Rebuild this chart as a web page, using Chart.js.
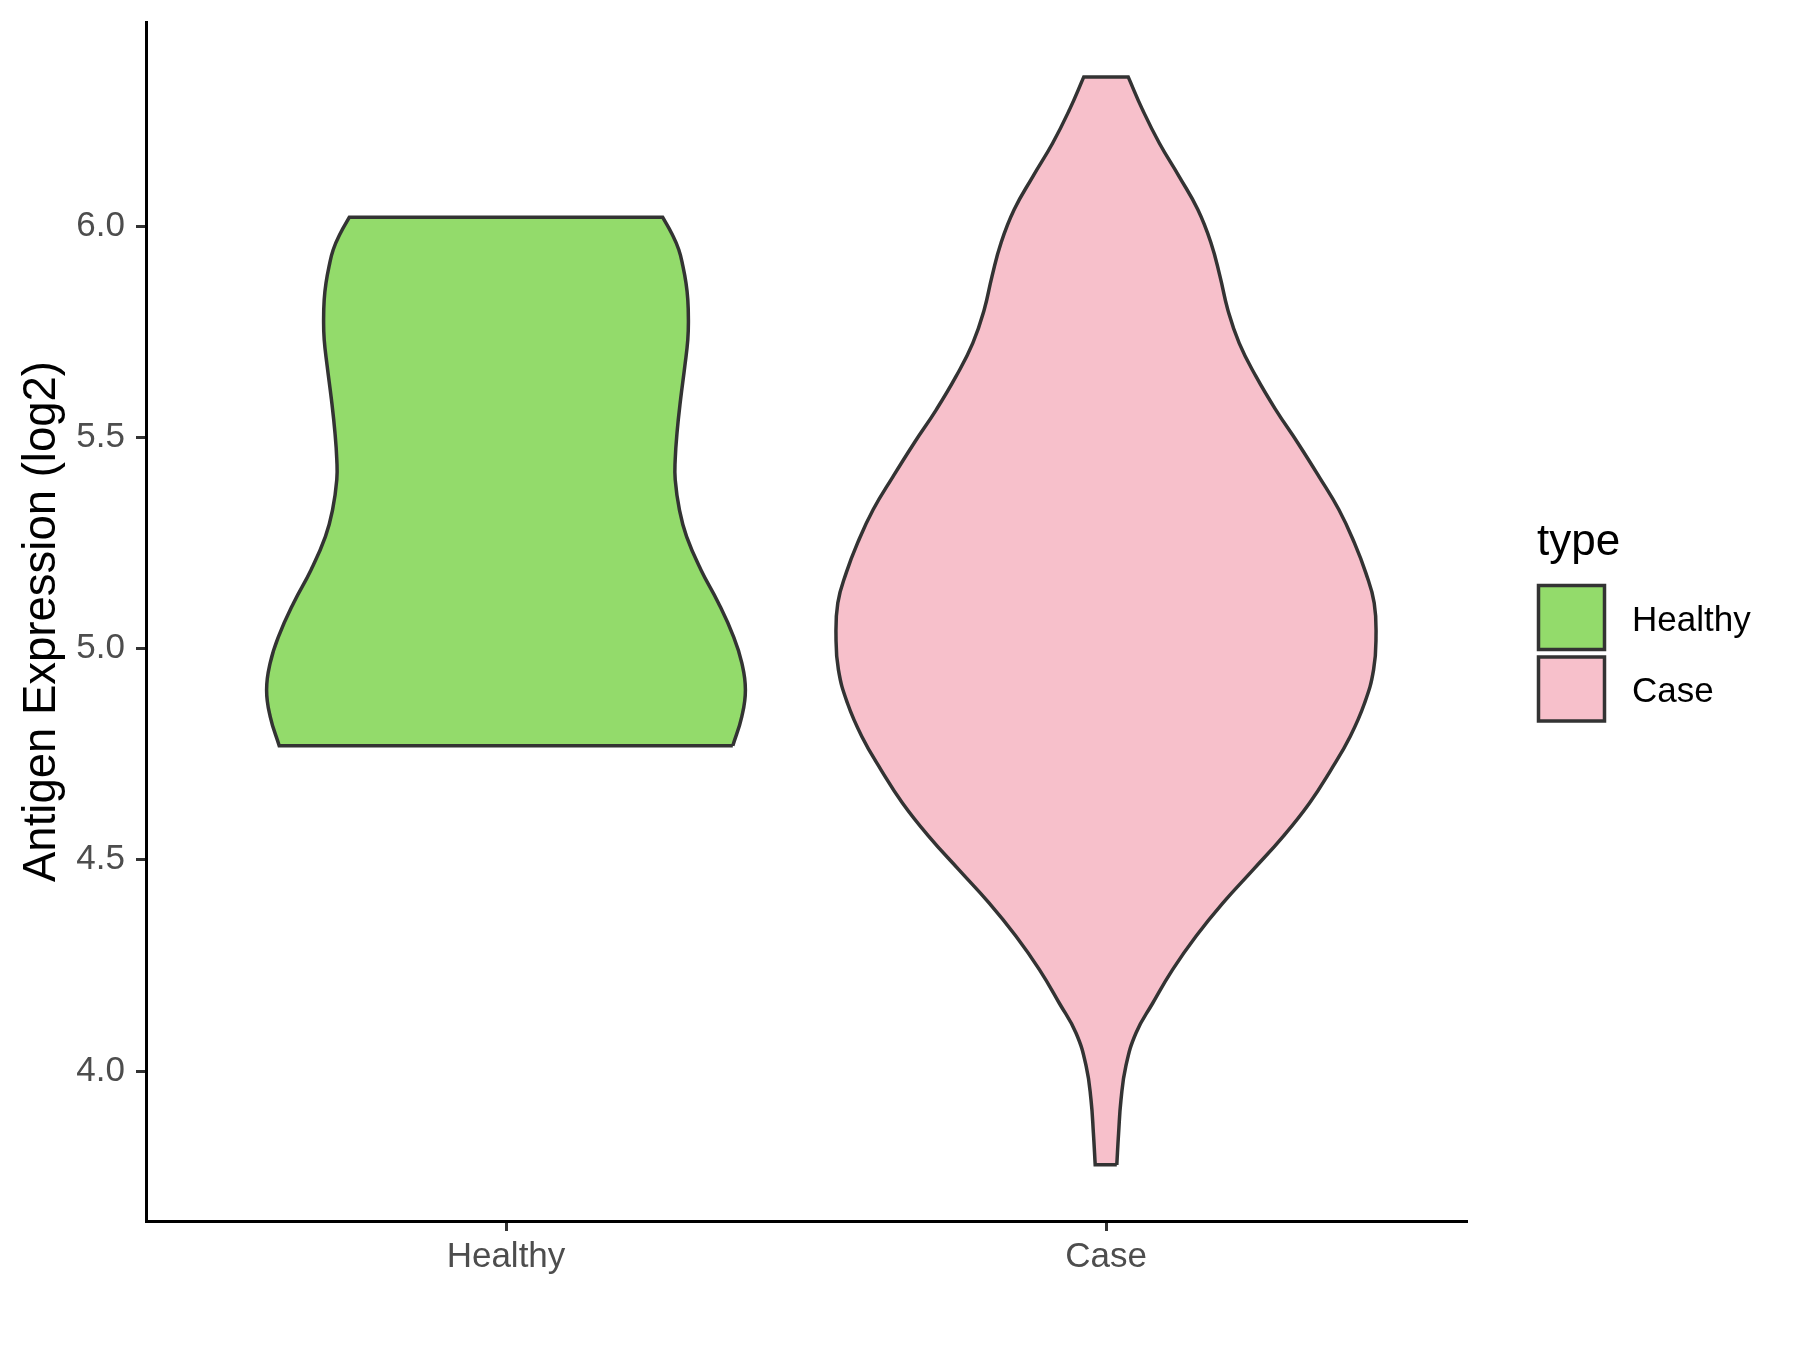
<!DOCTYPE html>
<html>
<head>
<meta charset="utf-8">
<script src="https://cdn.jsdelivr.net/npm/chart.js@4.4.1/dist/chart.umd.min.js"></script>
<style>
  html, body { margin: 0; padding: 0; background: #fff; }
  #violin { display: block; }
</style>
</head>
<body>
<canvas id="violin" width="1800" height="1350"></canvas>
<script>
// categories on the x axis
const categories = ["Healthy", "Case"];
const legendTitle = "type";
const yTitle = "Antigen Expression (log2)";
const yTicks = [4.0, 4.5, 5.0, 5.5, 6.0];

// violin outlines: level (log2) and half width (category units)
const healthyLevels = [4.770, 4.839, 4.902, 4.966, 5.029, 5.108, 5.186, 5.265, 5.329, 5.400, 5.447,
  5.510, 5.590, 5.668, 5.731, 5.778, 5.826, 5.865, 5.904, 5.944, 5.983, 6.021];
const healthyWidths = [0.378, 0.393, 0.399, 0.393, 0.379, 0.354, 0.325, 0.301, 0.289, 0.282, 0.282,
  0.285, 0.291, 0.298, 0.303, 0.304, 0.303, 0.300, 0.295, 0.288, 0.276, 0.261];

const caseLevels = [3.778, 3.853, 3.932, 4.011, 4.090, 4.161, 4.240, 4.319, 4.398, 4.476, 4.555, 4.634,
  4.713, 4.792, 4.871, 4.950, 5.029, 5.108, 5.179, 5.250, 5.329, 5.407, 5.486, 5.565, 5.644, 5.723,
  5.802, 5.881, 5.960, 6.039, 6.117, 6.196, 6.275, 6.353];
const caseWidths = [0.018, 0.021, 0.025, 0.033, 0.050, 0.078, 0.111, 0.150, 0.195, 0.245, 0.295, 0.339,
  0.375, 0.407, 0.431, 0.446, 0.450, 0.447, 0.433, 0.414, 0.388, 0.355, 0.320, 0.283, 0.250, 0.222,
  0.203, 0.190, 0.175, 0.153, 0.122, 0.089, 0.061, 0.037];

const fills = ["#93DB6B", "#F7C0CB"];
const outline = "#333333";
const font = "'Liberation Sans', Arial, sans-serif";

// closed outline: right side upwards, then left side downwards.
// corners are doubled so the spline keeps the flat (trimmed) ends straight
function violinPoints(center, levels, widths) {
  const n = levels.length;
  const right = levels.map((v, i) => ({ x: center + widths[i], y: v }));
  const left = levels.map((v, i) => ({ x: center - widths[i], y: v })).reverse();
  return [right[0], ...right, right[n - 1], left[0], ...left, left[n - 1], right[0]];
}

function violinSet(label, pts, color) {
  return {
    label: label,
    data: pts,
    showLine: true,
    fill: "shape",
    backgroundColor: color,
    borderColor: outline,
    borderWidth: 3.5,
    pointRadius: 0,
    tension: 0.45
  };
}

// legend drawn on the canvas, ggplot style
const legendBox = {
  id: "legendBox",
  afterDraw(chart) {
    const ctx = chart.ctx;
    ctx.save();
    ctx.fillStyle = "#000";
    ctx.textAlign = "left";
    ctx.textBaseline = "alphabetic";
    ctx.font = "44px " + font;
    ctx.fillText(legendTitle, 1537, 555);

    const keyTops = [585.5, 657];
    const baselines = [630.5, 702];
    ctx.lineWidth = 3.5;
    categories.forEach((c, i) => {
      ctx.fillStyle = fills[i];
      ctx.strokeStyle = outline;
      ctx.fillRect(1538.5, keyTops[i], 66, 64);
      ctx.strokeRect(1538.5, keyTops[i], 66, 64);
      ctx.fillStyle = "#000";
      ctx.font = "35px " + font;
      ctx.fillText(c, 1632, baselines[i]);
    });
    ctx.restore();
  }
};

new Chart(document.getElementById("violin"), {
  type: "scatter",
  data: {
    datasets: [
      violinSet(categories[0], violinPoints(1, healthyLevels, healthyWidths), fills[0]),
      violinSet(categories[1], violinPoints(2, caseLevels, caseWidths), fills[1])
    ]
  },
  options: {
    responsive: false,
    animation: false,
    events: [],
    layout: { padding: { top: 22, right: 334, bottom: 0, left: 0 } },
    plugins: {
      legend: { display: false },
      tooltip: { enabled: false }
    },
    scales: {
      x: {
        type: "linear",
        min: 0.4,
        max: 2.6,
        afterBuildTicks: s => { s.ticks = categories.map((c, i) => ({ value: i + 1 })); },
        afterFit: s => { s.height = 129; s.paddingLeft = 0; s.paddingRight = 0; },
        border: { display: true, color: "#000", width: 3 },
        grid: { drawOnChartArea: false, drawTicks: true, tickLength: 10, color: outline, lineWidth: 3 },
        ticks: {
          padding: 5,
          color: "#4D4D4D",
          font: { size: 35, family: font },
          callback: v => categories[Math.round(v) - 1]
        }
      },
      y: {
        type: "linear",
        min: 3.645,
        max: 6.483,
        afterBuildTicks: s => { s.ticks = yTicks.map(v => ({ value: v })); },
        afterFit: s => { s.width = 146; s.paddingTop = 0; s.paddingBottom = 0; },
        border: { display: true, color: "#000", width: 3 },
        grid: { drawOnChartArea: false, drawTicks: true, tickLength: 10, color: outline, lineWidth: 3 },
        ticks: {
          padding: 11,
          color: "#4D4D4D",
          font: { size: 35, family: font },
          callback: v => v.toFixed(1)
        },
        title: {
          display: true,
          text: yTitle,
          color: "#000",
          font: { size: 45.5, family: font },
          padding: { top: 15, bottom: 0 }
        }
      }
    }
  },
  plugins: [legendBox]
});
</script>
</body>
</html>
